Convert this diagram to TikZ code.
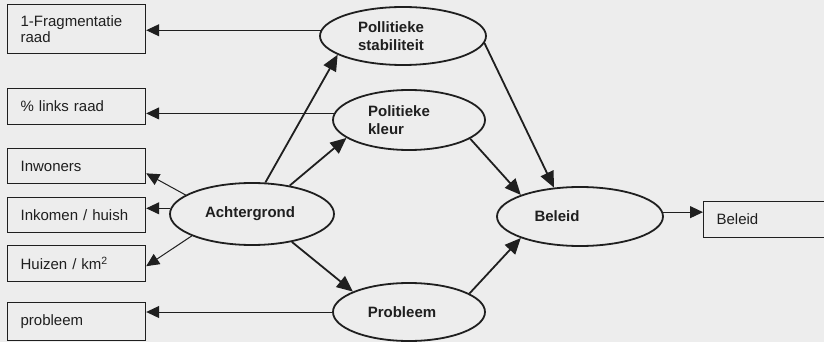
\documentclass[tikz,border=0pt]{standalone}
\usepackage{fontspec}
\setmainfont{Liberation Sans}
\usetikzlibrary{arrows.meta,shapes.geometric,calc}
\definecolor{paper}{gray}{0.93}
\definecolor{ink}{gray}{0.12}
\begin{document}
\begin{tikzpicture}[x=1pt,y=-1pt,
  box/.style={draw=ink, line width=1.2pt, fill=paper, rectangle, anchor=north west,
    inner xsep=13pt, inner ysep=0pt, text width=112pt, align=left, text=ink,
    font=\fontsize{15}{16}\selectfont},
  ell/.style={draw=ink, line width=1.8pt, fill=paper, ellipse, inner sep=0pt},
  lab/.style={font=\fontsize{15}{18}\selectfont\bfseries, align=left, text=ink, inner sep=0pt},
  thinarr/.style={draw=ink, line width=1pt, -{Triangle[length=13pt,width=12pt]}},
  thickarr/.style={draw=ink, line width=1.8pt, -{Triangle[length=16pt,width=14pt]}}]
\useasboundingbox (0,0) rectangle (824,342);
\fill[paper] (0,0) rectangle (824,342);
% boxes
\node[box, minimum height=49pt] (f1) at (7,4) {1-Fragmentatie\\raad};
\node[box, minimum height=36pt] (f2) at (7,88) {\% links raad};
\node[box, minimum height=35pt] (f3) at (7,148) {Inwoners};
\node[box, minimum height=35pt] (f4) at (7,197) {Inkomen / huish};
\node[box, minimum height=36pt] (f5) at (7,245) {Huizen / km\textsuperscript{2}};
\node[box, minimum height=38pt] (f6) at (7,302) {probleem};
\node[box, minimum height=36pt, text width=160pt] (out) at (703,201) {Beleid};
% ellipses
\node[ell, minimum width=166pt, minimum height=58pt,
  label={[lab,xshift=-12pt]center:{Pollitieke\\stabiliteit}}] (ps) at (403,36) {};
\node[ell, minimum width=152pt, minimum height=60pt,
  label={[lab,xshift=-10pt]center:{Politieke\\kleur}}] (pk) at (409,120) {};
\node[ell, minimum width=164pt, minimum height=62pt,
  label={[lab,xshift=-2pt]center:{Achtergrond}}] (ach) at (252,214) {};
\node[ell, minimum width=152pt, minimum height=58pt,
  label={[lab,xshift=-7pt]center:{Probleem}}] (pb) at (409,312) {};
\node[ell, minimum width=166pt, minimum height=59pt,
  label={[lab,xshift=-23pt]center:{Beleid}}] (bel) at (580,216.5) {};
% thin connectors to boxes
\draw[thinarr] (ps.176) -- (ps.176 -| f1.east);
\draw[thinarr] (pk.175) -- (pk.175 -| f2.east);
\draw[thinarr] (ach.164) -- ($(f3.south east)!0.3!(f3.north east)$);
\draw[thinarr] (ach.176) -- (ach.176 -| f4.east);
\draw[thinarr] (ach.200) -- ($(f5.south east)!0.43!(f5.north east)$);
\draw[thinarr] (pb.west) -- (pb.west -| f6.east);
\draw[thinarr] (bel.3) -- (bel.3 -| out.west);
% thick connectors
\draw[thickarr] (ach.67) -- (ps.196);
\draw[thickarr] (ach.37) -- (pk.196);
\draw[thickarr] (ach.-35) -- (pb.160);
\draw[thickarr] (ps.-5) -- (bel.132);
\draw[thickarr] (pk.-17) -- (bel.160);
\draw[thickarr] (pb.17) -- (bel.200);
\end{tikzpicture}
\end{document}
